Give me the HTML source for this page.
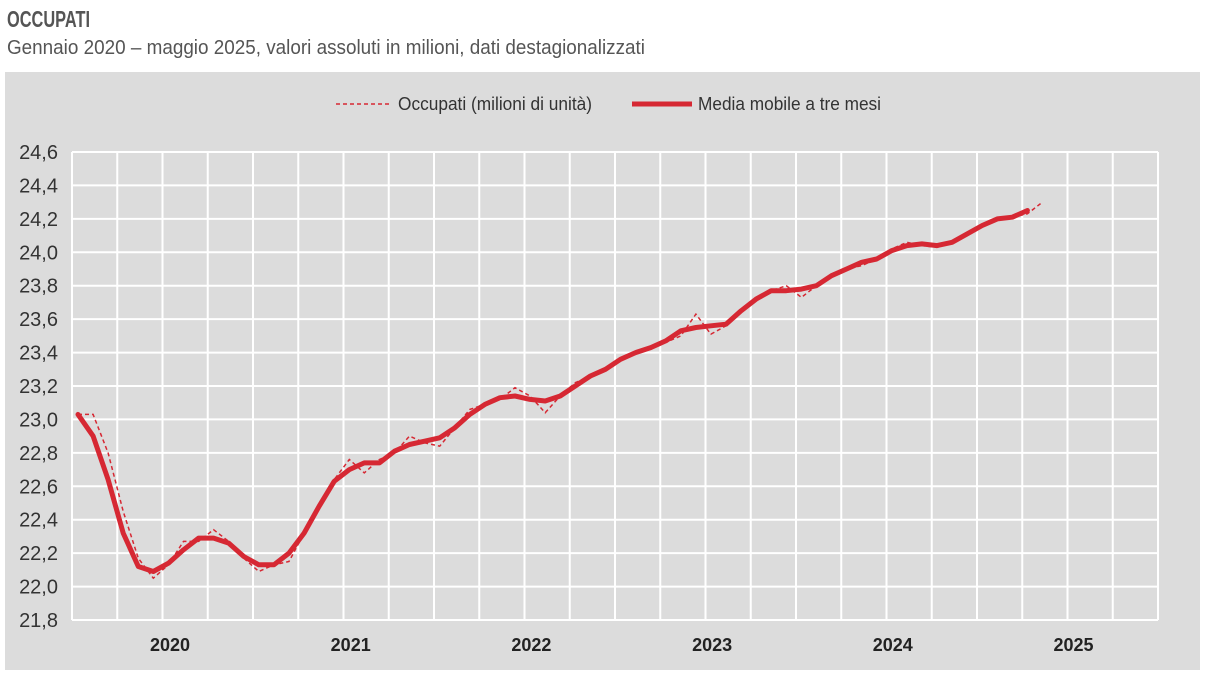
<!DOCTYPE html>
<html><head><meta charset="utf-8"><style>
html,body{margin:0;padding:0;background:#fff;}
svg{display:block;font-family:"Liberation Sans Narrow","Liberation Sans",sans-serif;}
</style></head><body>
<svg id="chart" width="1205" height="675" viewBox="0 0 1205 675">
<text x="7" y="27" font-size="23" font-weight="bold" fill="#555" textLength="83" lengthAdjust="spacingAndGlyphs">OCCUPATI</text>
<text x="7" y="54" font-size="20" fill="#555" textLength="638" lengthAdjust="spacingAndGlyphs">Gennaio 2020 – maggio 2025, valori assoluti in milioni, dati destagionalizzati</text>
<rect x="5" y="72" width="1195" height="598" fill="#dcdcdc"/>
<g id="legend">
<line x1="336" y1="104" x2="392" y2="104" stroke="#d62833" stroke-width="1.5" stroke-dasharray="4,3"/>
<text x="398" y="110" font-size="18" fill="#333" textLength="194" lengthAdjust="spacingAndGlyphs">Occupati (milioni di unità)</text>
<line x1="632" y1="104" x2="692" y2="104" stroke="#d62833" stroke-width="5"/>
<text x="698" y="110" font-size="18" fill="#333" textLength="183" lengthAdjust="spacingAndGlyphs">Media mobile a tre mesi</text>
</g>
<g id="grid"></g>
<g id="axes"></g>
<g id="series"></g>
</svg>
<script>
const yTicks=["21,8","22,0","22,2","22,4","22,6","22,8","23,0","23,2","23,4","23,6","23,8","24,0","24,2","24,4","24,6"];
const yTickValues=[21.8,22.0,22.2,22.4,22.6,22.8,23.0,23.2,23.4,23.6,23.8,24.0,24.2,24.4,24.6];
const years=["2020","2021","2022","2023","2024","2025"];
const occupati=[23.03,23.03,22.80,22.45,22.17,22.05,22.13,22.27,22.27,22.34,22.27,22.17,22.09,22.13,22.15,22.32,22.48,22.64,22.76,22.68,22.76,22.80,22.90,22.86,22.84,22.95,23.06,23.09,23.12,23.19,23.14,23.04,23.14,23.22,23.26,23.30,23.35,23.40,23.42,23.46,23.50,23.63,23.51,23.56,23.66,23.72,23.77,23.80,23.73,23.80,23.87,23.90,23.92,23.96,24.02,24.06,24.04,24.03,24.06,24.11,24.16,24.19,24.21,24.23,24.30];
const mediaMobile=[23.03,22.90,22.64,22.32,22.12,22.09,22.14,22.22,22.29,22.29,22.26,22.18,22.13,22.13,22.20,22.32,22.48,22.63,22.70,22.74,22.74,22.81,22.85,22.87,22.89,22.95,23.03,23.09,23.13,23.14,23.12,23.11,23.14,23.20,23.26,23.30,23.36,23.40,23.43,23.47,23.53,23.55,23.56,23.57,23.65,23.72,23.77,23.77,23.78,23.80,23.86,23.90,23.94,23.96,24.01,24.04,24.05,24.04,24.06,24.11,24.16,24.20,24.21,24.25];

const NS="http://www.w3.org/2000/svg";
const L=72,R=1158,T=152,B=620,yMin=21.8,yMax=24.6;
const xM=i=>78+i*15.07;
const yS=v=>B-(v-yMin)/(yMax-yMin)*(B-T);
function mk(tag,attrs,parent){const e=document.createElementNS(NS,tag);for(const k in attrs)e.setAttribute(k,attrs[k]);parent.appendChild(e);return e;}
const grid=document.getElementById('grid'),axes=document.getElementById('axes'),series=document.getElementById('series');
yTickValues.forEach((v,i)=>{
  const ln=mk('line',{x1:L,x2:R,y1:yS(v),y2:yS(v),stroke:'#fff','stroke-width':2},grid);
  
  
  const t=mk('text',{x:58,y:yS(v)+7,'font-size':20,fill:'#333','text-anchor':'end'},axes);
  t.textContent=yTicks[i];
  
  
});
for(let k=0;k<=24;k++){
  const x=L+k*(R-L)/24;
  const ln=mk('line',{x1:x,x2:x,y1:T,y2:B,stroke:'#fff','stroke-width':2},grid);
  
  
}
years.forEach((y,i)=>{
  const t=mk('text',{x:170+i*180.7,y:651,'font-size':18,'font-weight':'bold',fill:'#222','text-anchor':'middle'},axes);
  t.textContent=y;
  
  
});
const pts=a=>a.map((v,i)=>xM(i).toFixed(1)+','+yS(v).toFixed(1)).join(' ');
const p1=mk('polyline',{points:pts(occupati),fill:'none',stroke:'#d62833','stroke-width':1.5,'stroke-dasharray':'4,3'},series);


const p2=mk('polyline',{points:pts(mediaMobile),fill:'none',stroke:'#d62833','stroke-width':5,'stroke-linejoin':'round','stroke-linecap':'round'},series);


</script>
</body></html>
